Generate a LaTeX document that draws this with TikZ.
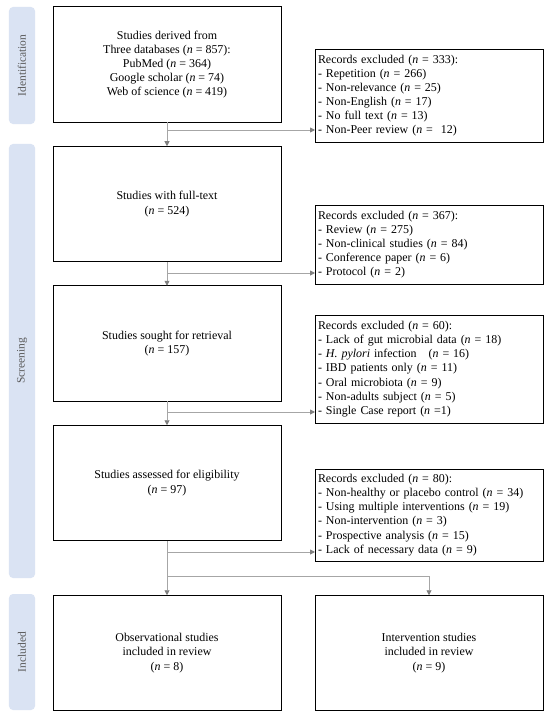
\documentclass[tikz,border=0pt]{standalone}
\usepackage{fontspec}
\setmainfont{Liberation Serif}
\usetikzlibrary{arrows.meta}
\definecolor{sidecol}{HTML}{DAE3F3}
\definecolor{sidetxt}{HTML}{595959}
\definecolor{conncol}{HTML}{A6A6A6}
\definecolor{tipcol}{HTML}{7F7F7F}
\newcommand{\nn}{\textit{n}}
\begin{document}
\begin{tikzpicture}[x=1bp,y=-1bp,
  mainbox/.style={draw=black, line width=0.9bp, minimum width=228bp, minimum height=115.5bp,
    align=center, font=\fontsize{12}{14.2}\selectfont, inner sep=0pt, outer sep=0pt},
  exclbox/.style={draw=black, line width=0.9bp, text width=222bp, inner xsep=3bp, inner ysep=3bp,
    align=left, font=\fontsize{12}{14.2}\selectfont, outer sep=0pt},
  sidebar/.style={fill=sidecol, rounded corners=4bp, minimum width=26bp, inner sep=0pt, outer sep=0pt},
  sidetext/.style={rotate=90, text=sidetxt, font=\fontsize{11.5}{13}\selectfont, inner sep=0pt},
  conn/.style={draw=conncol, line width=0.9bp, -{Triangle[length=5bp,width=5bp,color=tipcol]}},
  plain/.style={draw=conncol, line width=0.9bp}
]
\useasboundingbox (0,0) rectangle (550,719);
\fill[white] (0,0) rectangle (550,719);

% side bars
\node[sidebar, minimum height=117bp] (s1) at (22,65.5) {};
\node[sidetext] (t1) at (s1) {Identification};
\node[sidebar, minimum height=434bp] (s2) at (22,361) {};
\node[sidetext] (t2) at (s2) {Screening};
\node[sidebar, minimum height=116bp] (s3) at (22,652) {};
\node[sidetext] (t3) at (s3) {Included};

% main boxes
\node[mainbox] (m1) at (167,64.5) {Studies derived from\\Three databases (\nn{} = 857):\\PubMed (\nn{} = 364)\\Google scholar (\nn{} = 74)\\Web of science (\nn{} = 419)};
\node[mainbox] (m2) at (167,204) {Studies with full-text\\(\nn{} = 524)};
\node[mainbox] (m3) at (167,343.5) {Studies sought for retrieval\\(\nn{} = 157)};
\node[mainbox] (m4) at (167,483) {Studies assessed for eligibility\\(\nn{} = 97)};
\node[mainbox] (o1) at (167,653) {Observational studies\\included in review\\(\nn{} = 8)};
\node[mainbox] (o2) at (429,653) {Intervention studies\\included in review\\(\nn{} = 9)};

% exclusion boxes
\node[exclbox, minimum height=93bp] (e1) at (429,95.5) {Records excluded (\nn{} = 333):\\- Repetition (\nn{} = 266)\\- Non-relevance (\nn{} = 25)\\- Non-English (\nn{} = 17)\\- No full text (\nn{} = 13)\\- Non-Peer review (\nn{} = \ 12)};
\node[exclbox, minimum height=79bp] (e2) at (429,244.5) {Records excluded (\nn{} = 367):\\- Review (\nn{} = 275)\\- Non-clinical studies (\nn{} = 84)\\- Conference paper (\nn{} = 6)\\- Protocol (\nn{} = 2)};
\node[exclbox, minimum height=108bp] (e3) at (429,369) {Records excluded (\nn{} = 60):\\- Lack of gut microbial data (\nn{} = 18)\\- \textit{H. pylori} infection \ \ (\nn{} = 16)\\- IBD patients only (\nn{} = 11)\\- Oral microbiota (\nn{} = 9)\\- Non-adults subject (\nn{} = 5)\\- Single Case report (\nn{} =1)};
\node[exclbox, minimum height=92bp] (e4) at (429,515) {Records excluded (\nn{} = 80):\\- Non-healthy or placebo control (\nn{} = 34)\\- Using multiple interventions (\nn{} = 19)\\- Non-intervention (\nn{} = 3)\\- Prospective analysis (\nn{} = 15)\\- Lack of necessary data (\nn{} = 9)};

% branch points
\coordinate (b1) at (167,130);
\coordinate (b2) at (167,273);
\coordinate (b3) at (167,412);
\coordinate (b4) at (167,552);
\coordinate (sp) at (167,576);

% vertical flow
\draw[conn] (m1) -- (m2);
\draw[conn] (m2) -- (m3);
\draw[conn] (m3) -- (m4);
\draw[conn] (m4) -- (o1);

% exclusions
\draw[conn] (b1) -- (b1 -| e1.west);
\draw[conn] (b2) -- (b2 -| e2.west);
\draw[conn] (b3) -- (b3 -| e3.west);
\draw[conn] (b4) -- (b4 -| e4.west);

% split to intervention
\draw[conn] (sp) -| (o2.north);
\end{tikzpicture}
\end{document}
